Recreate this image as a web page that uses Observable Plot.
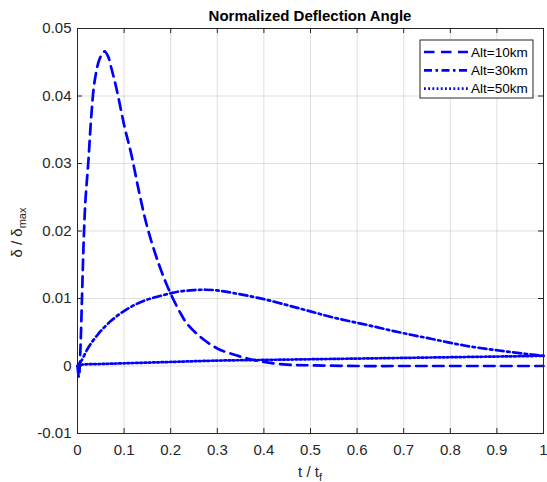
<!DOCTYPE html>
<html>
<head>
<meta charset="utf-8">
<script src="https://cdn.jsdelivr.net/npm/d3@7"></script>
<script src="https://cdn.jsdelivr.net/npm/@observablehq/plot@0.6"></script>
<style>
  html, body { margin: 0; padding: 0; background: #fff; }
</style>
</head>
<body>
<div id="chart"></div>
<script>
// ---- data ----
const alt10X = [0, 0.003, 0.006, 0.010, 0.013, 0.017, 0.023, 0.030, 0.037, 0.048, 0.058, 0.066, 0.072, 0.083, 0.101, 0.115, 0.133, 0.15, 0.175, 0.2, 0.222, 0.236, 0.264, 0.3, 0.335, 0.36, 0.4, 0.45, 0.5, 0.6, 0.7, 0.8, 0.9, 1.0];
const alt10Y = [0, -0.0017, 0.002, 0.011, 0.018, 0.0245, 0.030, 0.0374, 0.0423, 0.0456, 0.0466, 0.0458, 0.0443, 0.0413, 0.0354, 0.0315, 0.0255, 0.0205, 0.0150, 0.0107, 0.0077, 0.0062, 0.0043, 0.0026, 0.0017, 0.0012, 0.0006, 0.0002, 0.0001, 0, 0, 0, 0, 0];

const alt30X = [0, 0.0085, 0.023, 0.044, 0.072, 0.108, 0.144, 0.179, 0.215, 0.25, 0.275, 0.3, 0.335, 0.4, 0.478, 0.548, 0.62, 0.69, 0.761, 0.833, 0.904, 0.974, 1.0];
const alt30Y = [0, 0.0008, 0.0027, 0.0047, 0.0067, 0.0085, 0.0097, 0.0104, 0.0110, 0.01125, 0.0113, 0.0112, 0.0108, 0.0099, 0.0085, 0.0072, 0.0061, 0.0050, 0.0040, 0.0030, 0.0023, 0.0017, 0.0015];

const alt50X = [0, 0.01, 0.05, 0.1, 0.2, 0.3, 0.4, 0.5, 0.6, 0.7, 0.8, 0.9, 1.0];
const alt50Y = [0, 0.0002, 0.0003, 0.0004, 0.0006, 0.0008, 0.0009, 0.0010, 0.0011, 0.0012, 0.0013, 0.0014, 0.0015];

const seriesNames = ["Alt=10km", "Alt=30km", "Alt=50km"];

const xTicks = [0, 0.1, 0.2, 0.3, 0.4, 0.5, 0.6, 0.7, 0.8, 0.9, 1];
const xTickLabels = ["0", "0.1", "0.2", "0.3", "0.4", "0.5", "0.6", "0.7", "0.8", "0.9", "1"];
const yTicks = [-0.01, 0, 0.01, 0.02, 0.03, 0.04, 0.05];
const yTickLabels = ["-0.01", "0", "0.01", "0.02", "0.03", "0.04", "0.05"];

const titleText = "Normalized Deflection Angle";

// ---- layout ----
const W = 547, H = 482;
const mL = 77, mR = 4, mT = 28, mB = 49;
const pw = W - mL - mR, ph = H - mT - mB;
const blue = "#0000ff";
const axisColor = "#262626";
const font = "'Liberation Sans', Arial, Helvetica, sans-serif";
const dashes = ["10.5,6.5", "8,3.5,2.5,3.5", "1.8,2.4"];
const lw = 2.7;

const toRows = (xs, ys) => xs.map((x, i) => ({x, y: ys[i]}));
const rows = [toRows(alt10X, alt10Y), toRows(alt30X, alt30Y), toRows(alt50X, alt50Y)];

const chart = Plot.plot({
  width: W, height: H,
  marginLeft: mL, marginRight: mR, marginTop: mT, marginBottom: mB,
  style: {fontFamily: font, background: "#fff", color: axisColor, overflow: "visible"},
  x: {domain: [0, 1]},
  y: {domain: [-0.01, 0.05]},
  marks: [
    Plot.gridX(xTicks, {stroke: axisColor, strokeOpacity: 0.15, strokeWidth: 1}),
    Plot.gridY(yTicks, {stroke: axisColor, strokeOpacity: 0.15, strokeWidth: 1}),
    ...rows.map((r, i) => Plot.line(r, {
      x: "x", y: "y", stroke: blue, strokeWidth: lw,
      strokeDasharray: dashes[i], curve: "catmull-rom"
    })),
    // inward ticks on all four sides
    Plot.ruleX(xTicks, {stroke: axisColor, insetTop: ph - 5}),
    Plot.ruleX(xTicks, {stroke: axisColor, insetBottom: ph - 5}),
    Plot.ruleY(yTicks, {stroke: axisColor, insetRight: pw - 5}),
    Plot.ruleY(yTicks, {stroke: axisColor, insetLeft: pw - 5}),
    Plot.frame({stroke: axisColor, strokeWidth: 1}),
    Plot.axisX(xTicks, {
      tickSize: 0, tickPadding: 11, fontSize: 15, label: null, fill: axisColor,
      tickFormat: d => xTickLabels[xTicks.indexOf(d)]
    }),
    Plot.axisY(yTicks, {
      tickSize: 0, tickPadding: 6, fontSize: 15, label: null, fill: axisColor,
      tickFormat: d => yTickLabels[yTicks.indexOf(d)]
    })
  ]
});

const svg = d3.select(chart);

// title
svg.append("text")
  .attr("x", mL + pw / 2).attr("y", 21)
  .attr("text-anchor", "middle")
  .attr("font-family", font).attr("font-size", 15).attr("font-weight", "bold")
  .attr("fill", "#000")
  .text(titleText);

// x label: t / t_f
const xl = svg.append("text")
  .attr("x", mL + pw / 2).attr("y", 477)
  .attr("text-anchor", "middle")
  .attr("font-family", font).attr("font-size", 15).attr("fill", axisColor);
xl.append("tspan").text("t / t");
xl.append("tspan").attr("font-size", 11).attr("dy", 3.5).text("f");

// y label: δ / δ_max
const yl = svg.append("text")
  .attr("transform", `translate(22,${mT + ph / 2 + 2}) rotate(-90)`)
  .attr("text-anchor", "middle")
  .attr("font-family", font).attr("font-size", 15).attr("fill", axisColor);
yl.append("tspan").text("δ / δ");
yl.append("tspan").attr("font-size", 11).attr("dy", 4).text("max");

// legend
const lg = svg.append("g").attr("text-anchor", "start");
const bx = 420, by = 40, bw = 113, bh = 58;
lg.append("rect").attr("x", bx).attr("y", by).attr("width", bw).attr("height", bh)
  .attr("fill", "#fff").attr("stroke", axisColor).attr("stroke-width", 1);
const rowY = [52, 70.3, 88.6];
seriesNames.forEach((name, i) => {
  lg.append("line")
    .attr("x1", 424).attr("x2", 468).attr("y1", rowY[i]).attr("y2", rowY[i])
    .attr("stroke", blue).attr("stroke-width", lw).attr("stroke-dasharray", dashes[i]);
  lg.append("text")
    .attr("x", 471).attr("y", rowY[i]).attr("dy", "0.35em")
    .attr("text-anchor", "start")
    .attr("font-family", font).attr("font-size", 13.5).attr("fill", "#000")
    .text(name);
});

document.getElementById("chart").appendChild(chart);
</script>
</body>
</html>
